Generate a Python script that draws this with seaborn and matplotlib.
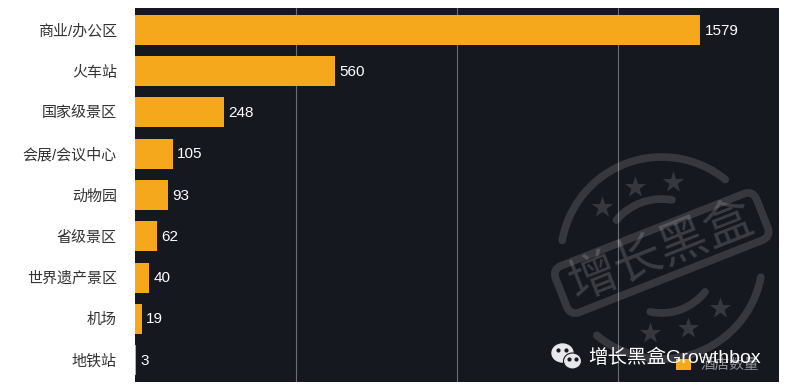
import numpy as np
import pandas as pd
import seaborn as sns
import matplotlib.pyplot as plt
from matplotlib.patches import Arc, Ellipse, FancyBboxPatch
from matplotlib.transforms import Affine2D

# values
categories = ['商业/办公区', '火车站', '国家级景区', '会展/会议中心', '动物园',
              '省级景区', '世界遗产景区', '机场', '地铁站']
values = [1579, 560, 248, 105, 93, 62, 40, 19, 3]
grid_ticks = [450, 900, 1350]
legend_label = '酒店数量'

sns.set_theme(style='dark')
plt.rcParams['font.family'] = ['Liberation Sans', 'Noto Sans CJK SC', 'DejaVu Sans']

df = pd.DataFrame({'category': categories, 'value': values})

W, H = 789, 392
fig = plt.figure(figsize=(W / 100, H / 100), dpi=100, facecolor='white')
ax = fig.add_axes([135 / W, 1 - 382 / H, (779 - 135) / W, (382 - 8) / H])
ax.set_facecolor('#16181f')

sns.barplot(data=df, x='value', y='category', orient='h', color='#f5a81c',
            saturation=1, width=0.727, label=legend_label, linewidth=0, ax=ax, zorder=3)

ax.set_xlim(0, 1799)
ax.set_ylim(8.533, -0.533)
ax.set_xticks(grid_ticks)
ax.tick_params(axis='x', length=0, labelbottom=False)
ax.tick_params(axis='y', length=0, pad=13, labelsize=10.8, labelcolor='#333333')
ax.xaxis.grid(True, color='#6b6d73', linewidth=0.8)
ax.yaxis.grid(False)
ax.set_xlabel('')
ax.set_ylabel('')
for s in ax.spines.values():
    s.set_visible(False)

for i, v in enumerate(values):
    ax.annotate(str(v), (v, i), xytext=(3, -0.5), textcoords='offset points', va='center',
                color='white', fontsize=11, zorder=5)

leg = ax.legend(loc='center', bbox_to_anchor=(0.905, 0.045), frameon=False, fontsize=10.5,
                handlelength=1, handleheight=0.8, handletextpad=0.7, labelcolor='#8d8e92')
leg.set_zorder(4)

# watermark stamp and account name, drawn in pixel coordinates
over = fig.add_axes([0, 0, 1, 1], facecolor='none')
over.set_xlim(0, W)
over.set_ylim(H, 0)
over.axis('off')

stamp = dict(color='white', alpha=0.14, linewidth=5.5)
cx, cy = 661.7, 258
for r, t1, t2 in [(101, 190, 309), (101, 11, 130), (59, 220, 280), (55, 38, 102)]:
    over.add_patch(Arc((cx, cy), 2 * r, 2 * r, theta1=t1, theta2=t2, capstyle='round', **stamp))

box = FancyBboxPatch((661.7 - 108, 253 - 25), 216, 50, boxstyle='round,pad=0,rounding_size=10',
                     fill=False, edgecolor='white', alpha=0.14, linewidth=5.5)
box.set_transform(Affine2D().rotate_deg_around(661.7, 253, -21.5) + over.transData)
over.add_patch(box)
over.text(661.7, 253, '增长黑盒', rotation=21.5, rotation_mode='anchor', ha='center', va='center',
          fontsize=35, color='white', alpha=0.16)

star_x = 520 + np.array([245, 345, 460, 390, 505, 600]) / 3
star_y = 130 + np.array([230, 170, 155, 610, 595, 535]) / 3
over.scatter(star_x, star_y, marker='*', s=260, color='white', alpha=0.14, linewidths=0)

over.add_patch(Ellipse((562.5, 353), 21, 18, color='#e8e8ea', zorder=6))
over.add_patch(Ellipse((572.5, 361), 18, 16, color='#e8e8ea', ec='#16181f', lw=0.8, zorder=7))
over.scatter([558, 566, 569, 576], [350, 350, 359, 359], s=4, color='#16181f', zorder=8)
over.text(588, 358, '增长黑盒Growthbox', color='white', fontsize=14, va='center', zorder=9)

fig.savefig('out.png', dpi=100)
